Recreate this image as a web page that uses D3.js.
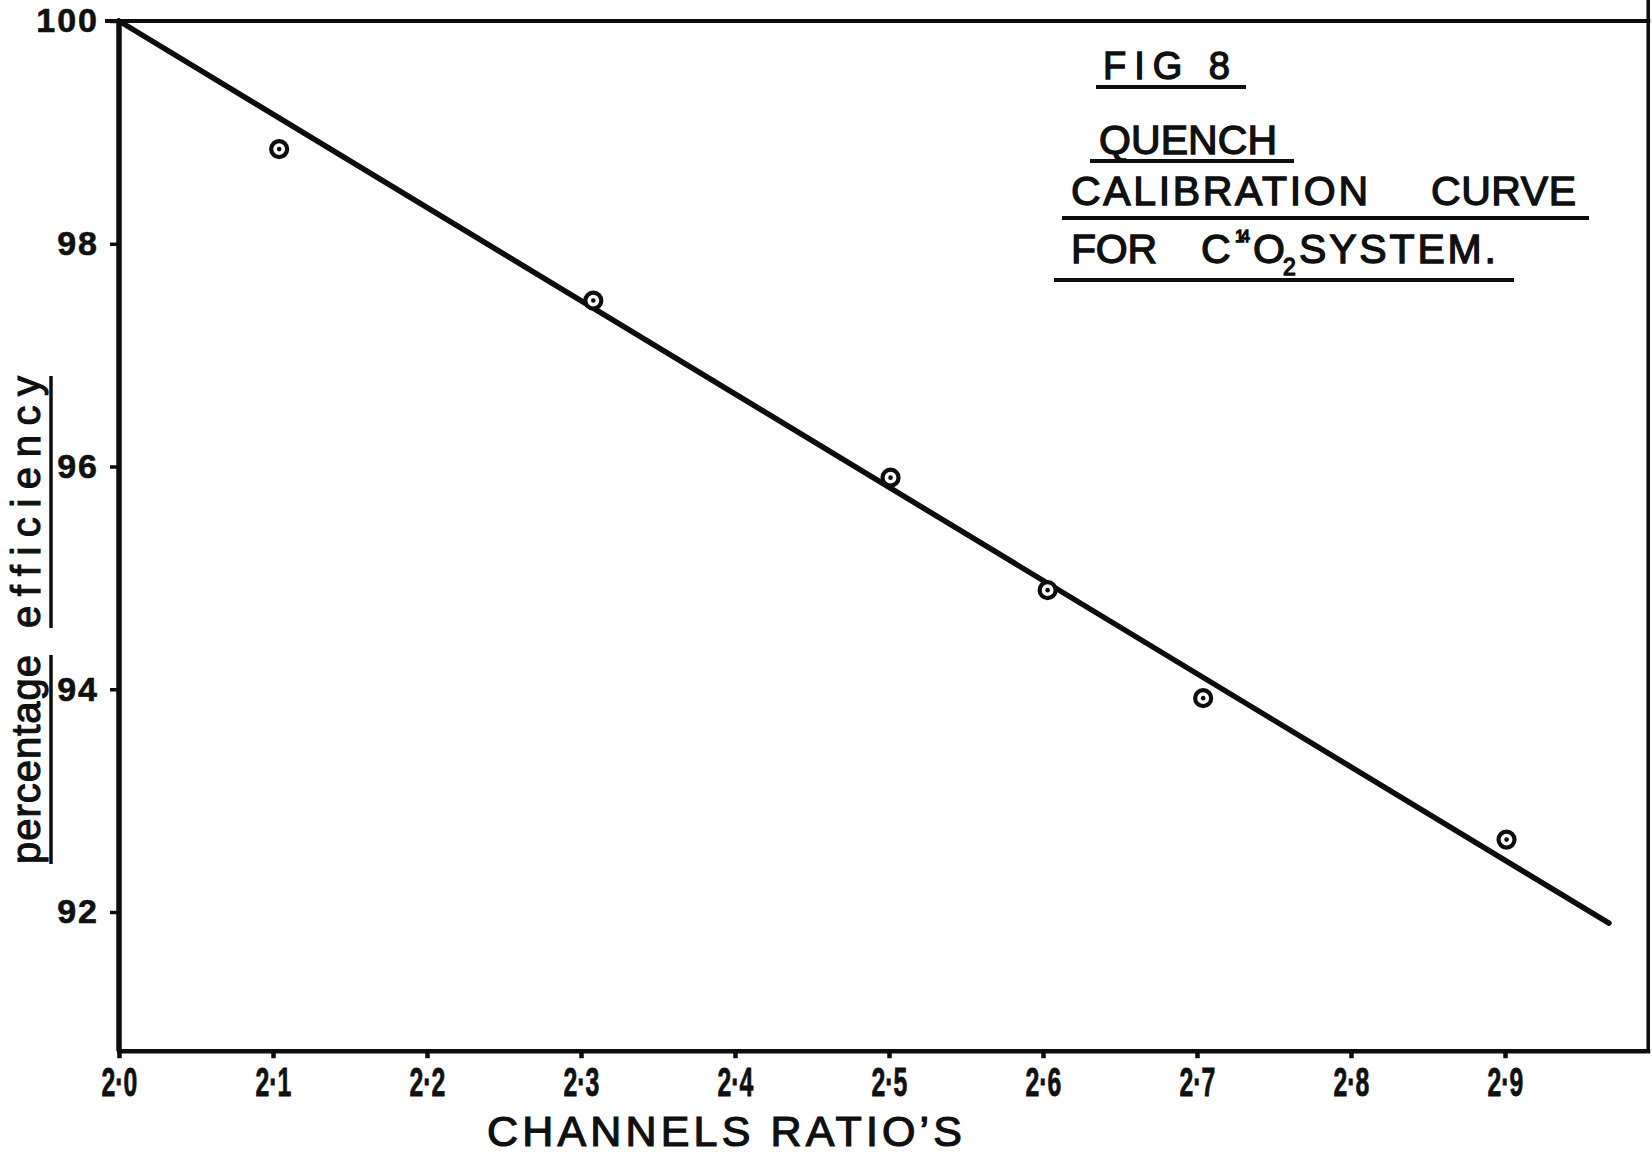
<!DOCTYPE html>
<html>
<head>
<meta charset="utf-8">
<script src="https://cdn.jsdelivr.net/npm/d3@7"></script>
<style>
  html, body { margin: 0; padding: 0; background: #fff; }
  svg { display: block; }
  text { font-family: "Liberation Sans", Arial, sans-serif; fill: #111; }
</style>
</head>
<body>
<svg id="chart" width="1652" height="1154"></svg>
<script>
// ---- data ----
const xTicks = [2.0, 2.1, 2.2, 2.3, 2.4, 2.5, 2.6, 2.7, 2.8, 2.9];
const yTicks = [92, 94, 96, 98, 100];
const channelsRatio = [2.104, 2.308, 2.501, 2.603, 2.704, 2.901];
const efficiency = [98.85, 97.49, 95.90, 94.89, 93.92, 92.65];
const fitRatio = [2.0, 2.9675];
const fitEfficiency = [100, 91.90];
const xExtent = [2.0, 2.993];
const yExtent = [90.75, 100];

const svg = d3.select("#chart");
svg.append("rect").attr("width", 1652).attr("height", 1154).attr("fill", "#fff");

const x = d3.scaleLinear().domain([2.0, 2.9]).range([119, 1505]);
const y = d3.scaleLinear().domain([100, 92]).range([21, 912]);

const L = x(xExtent[0]), R = x(xExtent[1]), T = y(yExtent[1]), B = y(yExtent[0]);
const ink = "#0d0d0d";

// frame
svg.append("line").attr("x1", L - 14).attr("x2", R + 2).attr("y1", T).attr("y2", T)
  .attr("stroke", ink).attr("stroke-width", 4);
svg.append("line").attr("x1", L).attr("x2", L).attr("y1", T).attr("y2", B)
  .attr("stroke", ink).attr("stroke-width", 5.5);
svg.append("line").attr("x1", L - 2).attr("x2", R + 2).attr("y1", B).attr("y2", B)
  .attr("stroke", ink).attr("stroke-width", 4.5);
svg.append("line").attr("x1", R).attr("x2", R).attr("y1", 0).attr("y2", B)
  .attr("stroke", ink).attr("stroke-width", 3.5);

// y axis
const ya = svg.append("g").attr("transform", `translate(${L},0)`)
  .call(d3.axisLeft(y).tickValues(yTicks).tickSize(9).tickPadding(11).tickFormat(d3.format("d")));
ya.select(".domain").remove();
ya.selectAll(".tick line").attr("stroke", ink).attr("stroke-width", 3.5);
ya.selectAll(".tick text")
  .style("font-family", "'Liberation Sans', Arial, sans-serif")
  .attr("font-size", 34).attr("font-weight", "bold").attr("letter-spacing", 2)
  .attr("stroke", ink).attr("stroke-width", 0.6)
  .attr("fill", ink);

// x axis
const xa = svg.append("g").attr("transform", `translate(0,${B})`)
  .call(d3.axisBottom(x).tickValues(xTicks).tickSize(7)
    .tickFormat(d => d.toFixed(1).replace(".", "\u00B7")));
xa.select(".domain").remove();
xa.selectAll(".tick line").attr("stroke", ink).attr("stroke-width", 4.5);
xa.selectAll(".tick text")
  .style("font-family", "'Liberation Sans', Arial, sans-serif")
  .attr("font-size", 40).attr("font-weight", "bold")
  .attr("y", 45).attr("dy", 0)
  .attr("transform", "scale(0.62,1)")
  .attr("stroke", ink).attr("stroke-width", 0.8)
  .attr("fill", ink);

// fitted line
const line = d3.line().x(d => x(d[0])).y(d => y(d[1]));
svg.append("path").datum(d3.zip(fitRatio, fitEfficiency))
  .attr("d", line).attr("fill", "none").attr("stroke", ink)
  .attr("stroke-width", 5.5).attr("stroke-linecap", "round");

// points
const pts = svg.append("g").selectAll("g").data(d3.zip(channelsRatio, efficiency)).join("g")
  .attr("transform", d => `translate(${x(d[0])},${y(d[1])})`);
pts.append("circle").attr("r", 8).attr("fill", "#fff").attr("stroke", ink).attr("stroke-width", 4.2);
pts.append("circle").attr("r", 2.3).attr("fill", ink);

// axis titles
svg.append("text").attr("x", 487).attr("y", 1146)
  .attr("font-size", 43).attr("textLength", 475).attr("lengthAdjust", "spacing")
  .attr("stroke", ink).attr("stroke-width", 1.2)
  .text("CHANNELS RATIO\u2019S");

const yt = svg.append("g").attr("transform", "translate(40,0) rotate(-90)");
const yWords = [
  { t: "percentage", s: -864, len: 209 },
  { t: "efficiency", s: -628, len: 252 }
];
yWords.forEach(w => {
  yt.append("text").attr("x", w.s).attr("y", 0).attr("font-size", 40)
    .attr("textLength", w.len).attr("lengthAdjust", "spacing")
    .attr("stroke", ink).attr("stroke-width", 1.1).text(w.t);
  yt.append("line").attr("x1", w.s).attr("x2", w.s + w.len).attr("y1", 11).attr("y2", 11)
    .attr("stroke", ink).attr("stroke-width", 3.5);
});

// title block
const tb = svg.append("g");
function txt(s, xx, yy, size, len) {
  const t = tb.append("text").attr("x", xx).attr("y", yy).attr("font-size", size)
    .attr("stroke", ink).attr("stroke-width", 1.3).text(s);
  if (len) t.attr("textLength", len).attr("lengthAdjust", "spacing");
  return t;
}
function ul(x1, x2, yy) {
  tb.append("line").attr("x1", x1).attr("x2", x2).attr("y1", yy).attr("y2", yy)
    .attr("stroke", ink).attr("stroke-width", 4);
}
txt("FIG 8", 1103, 79, 38, 127); ul(1096, 1246, 87);
txt("QUENCH", 1099, 154, 41, 178); ul(1090, 1294, 161);
txt("CALIBRATION", 1071, 205, 41, 297);
txt("CURVE", 1431, 205, 41, 145); ul(1062, 1589, 218);
txt("FOR", 1071, 263, 41, 86);
txt("C", 1201, 263, 41, 27);
txt("14", 1235, 242, 17, 15);
txt("O", 1253, 263, 41, 29);
txt("2", 1283, 275, 23, 12);
txt("SYSTEM.", 1299, 263, 41, 197); ul(1054, 1514, 280);
</script>
</body>
</html>
